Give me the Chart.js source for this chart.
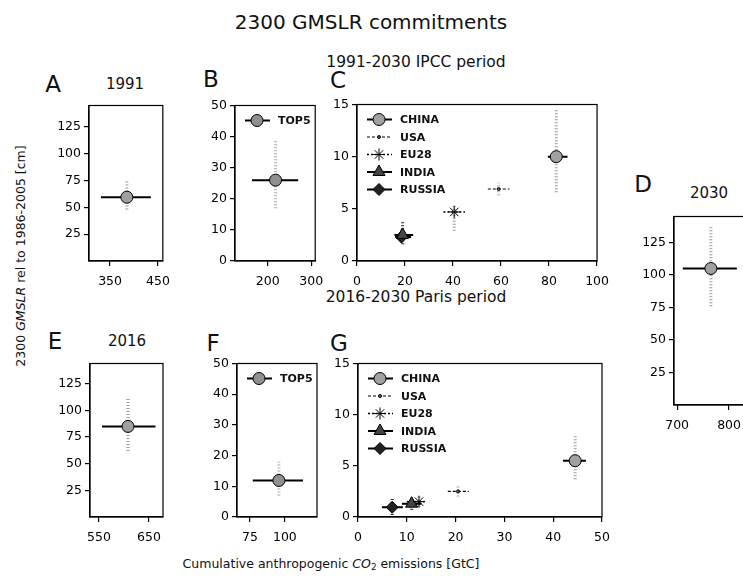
<!DOCTYPE html>
<html>
<head>
<meta charset="utf-8">
<script src="https://cdn.jsdelivr.net/npm/chart.js"></script>
<style>
  body { margin: 0; width: 743px; height: 579px; overflow: hidden; background: #fff; position: relative; font-family: 'DejaVu Sans', sans-serif; color: #111; }
  .t { position: absolute; white-space: nowrap; transform: translate(-50%, -50%); }
  .letter { font-size: 23px; }
  .sub { font-size: 15px; }
  .panel { position: absolute; }
  sub { font-size: 0.7em; vertical-align: -0.25em; line-height: 0; }
</style>
</head>
<body>
<div class="t" style="left:371px;top:22px;font-size:20px;">2300 GMSLR commitments</div>
<div class="t" style="left:416px;top:62px;font-size:15.5px;">1991-2030 IPCC period</div>
<div class="t" style="left:416px;top:297px;font-size:15.5px;">2016-2030 Paris period</div>

<div class="t letter" style="left:53px;top:84px;">A</div>
<div class="t sub" style="left:125px;top:84px;">1991</div>
<div class="t letter" style="left:211px;top:79px;">B</div>
<div class="t letter" style="left:338px;top:80px;">C</div>
<div class="t letter" style="left:643px;top:184px;">D</div>
<div class="t sub" style="left:709px;top:193px;">2030</div>
<div class="t letter" style="left:55px;top:341px;">E</div>
<div class="t sub" style="left:127px;top:341px;">2016</div>
<div class="t letter" style="left:213px;top:343px;">F</div>
<div class="t letter" style="left:339px;top:343px;">G</div>

<div class="t" style="left:20px;top:256px;font-size:12.5px;transform:translate(-50%,-50%) rotate(-90deg);">2300 <i>GMSLR</i> rel to 1986-2005 [cm]</div>
<div class="t" style="left:331px;top:563px;font-size:12.5px;">Cumulative anthropogenic <i>CO</i><sub>2</sub> emissions [GtC]</div>

<div id="panels"></div>

<script>
// countries, panels C and G
const countries = ['CHINA', 'USA', 'EU28', 'INDIA', 'RUSSIA'];

// 1991-2030 IPCC period (panel C)
const ipccX = [83, 59, 40.5, 19, 18.5];
const ipccY = [10.0, 6.9, 4.7, 2.5, 2.3];
const ipccXLow = [79.5, 54.5, 36, 15.6, 16];
const ipccXHigh = [87.7, 63.5, 45, 23.4, 22.5];
const ipccYLow = [6.6, 6.3, 2.9, 1.6, 1.8];
const ipccYHigh = [14.5, 7.5, 5.4, 3.8, 3.0];

// 2016-2030 Paris period (panel G)
const parisX = [44.5, 20.5, 12.5, 11, 7];
const parisY = [5.5, 2.5, 1.5, 1.3, 0.95];
const parisXLow = [42, 18.4, 10, 9, 4.9];
const parisXHigh = [46.7, 22.7, 14, 13, 9.2];
const parisYLow = [3.7, 2.0, 1.0, 0.7, 0.2];
const parisYHigh = [8.0, 3.0, 2.1, 1.9, 1.8];

// global totals, panels A, E, D
const years = ['1991', '2016', '2030'];
const globalX = [385, 608, 765];
const globalY = [59.5, 85, 105];
const globalXLow = [331, 556, 711];
const globalXHigh = [435, 663, 815];
const globalYLow = [48, 62, 76];
const globalYHigh = [76, 112, 138];

// top 5 emitters combined, panels B and F
const top5Label = 'TOP5';
const top5X = [218, 95.7];
const top5Y = [26, 11.9];
const top5XLow = [164, 77];
const top5XHigh = [270, 113];
const top5YLow = [17, 7];
const top5YHigh = [39, 18];

// tick labels
const globalTicksY = [25, 50, 75, 100, 125];
const top5TicksY = [0, 10, 20, 30, 40, 50];
const countryTicksY = [0, 5, 10, 15];
const ticksA = [350, 450];
const ticksE = [550, 650];
const ticksD = [700, 800];
const ticksB = [200, 300];
const ticksF = [75, 100];
const ticksC = [0, 20, 40, 60, 80, 100];
const ticksG = [0, 10, 20, 30, 40, 50];

// styles
const countryStyle = [
  { pointStyle: 'circle', radius: 6, fill: '#a0a0a0', dash: [], lw: 2, stripe: '#9a9a9a' },
  { pointStyle: 'circle', radius: 1.5, fill: '#666', dash: [3, 2], lw: 1.2, stripe: '#aaa' },
  { pointStyle: 'star', radius: 6, fill: '#bbb', dash: [2, 2], lw: 1.5, stripe: '#999' },
  { pointStyle: 'triangle', radius: 7, fill: '#444', dash: [], lw: 2, stripe: '#222' },
  { pointStyle: 'rectRot', radius: 6, fill: '#222', dash: [], lw: 2, stripe: '#222' }
];
const globalStyle = { pointStyle: 'circle', radius: 6, fill: '#a0a0a0', dash: [], lw: 2, stripe: '#999' };
const top5Style = { pointStyle: 'circle', radius: 6, fill: '#909090', dash: [], lw: 2, stripe: '#aaa' };

const YW = 36, XH = 31, PT = 8, PR = 16;

function series(x, y, xlo, xhi, ylo, yhi, st) {
  return [
    { type: 'scatter', data: [{ x: x, y: y }], pointStyle: st.pointStyle, pointRadius: st.radius,
      backgroundColor: st.fill, borderColor: '#000', pointBorderWidth: 1, order: 0 },
    { type: 'line', data: [{ x: xlo, y: y }, { x: xhi, y: y }], borderColor: '#000', borderWidth: st.lw,
      borderDash: st.dash, pointRadius: 0, order: 1 },
    { type: 'line', data: [{ x: x, y: ylo }, { x: x, y: yhi }], borderColor: st.stripe, borderWidth: 3,
      borderDash: [1, 2], pointRadius: 0, order: 2 }
  ];
}

function scales(xmin, xmax, xt, ymin, ymax, yt) {
  const grid = { display: true, drawOnChartArea: false, drawTicks: true, tickLength: 5, color: '#000', lineWidth: 1.2 };
  const border = { display: true, color: '#000', width: 1.2 };
  const font = { family: 'DejaVu Sans', size: 12.5 };
  return {
    x: {
      type: 'linear', min: xmin, max: xmax, grid: grid, border: border,
      ticks: { color: '#000', font: font, padding: 8, autoSkip: false, maxRotation: 0 },
      afterBuildTicks: s => { s.ticks = xt.map(v => ({ value: v })); },
      afterFit: s => { s.height = XH; }
    },
    y: {
      type: 'linear', min: ymin, max: ymax, grid: grid, border: border,
      ticks: { color: '#000', font: font, padding: 3, autoSkip: false },
      afterBuildTicks: s => { s.ticks = yt.map(v => ({ value: v })); },
      afterFit: s => { s.width = YW; }
    }
  };
}

const boxPlugin = {
  id: 'box',
  afterDatasetsDraw(chart) {
    const a = chart.chartArea, c = chart.ctx;
    c.save();
    c.strokeStyle = '#000';
    c.lineWidth = 1.2;
    c.strokeRect(a.left, a.top, a.right - a.left, a.bottom - a.top);
    c.restore();
  }
};

function legendPlugin(labels, styles) {
  return {
    id: 'inLegend',
    afterDraw(chart) {
      const a = chart.chartArea, c = chart.ctx;
      c.save();
      labels.forEach((lab, i) => {
        const st = styles[i];
        const y = a.top + 15 + i * 17.5;
        const mx = a.left + 22;
        c.strokeStyle = '#000';
        c.lineWidth = st.lw;
        c.setLineDash(st.dash);
        c.beginPath();
        c.moveTo(a.left + 10, y);
        c.lineTo(a.left + 35, y);
        c.stroke();
        c.setLineDash([]);
        c.fillStyle = st.fill;
        c.lineWidth = 1;
        Chart.helpers.drawPoint(c, { pointStyle: st.pointStyle, radius: st.radius, borderWidth: 1, rotation: 0 }, mx, y);
        c.fillStyle = '#111';
        c.font = 'bold 11px "DejaVu Sans"';
        c.textBaseline = 'middle';
        c.fillText(lab, a.left + 43, y + 1);
      });
      c.restore();
    }
  };
}

function panel(id, box, datasets, sc, extra) {
  const w = box[2] - box[0] + YW + PR;
  const h = box[3] - box[1] + PT + XH;
  const div = document.createElement('div');
  div.className = 'panel';
  div.style.left = (box[0] - YW) + 'px';
  div.style.top = (box[1] - PT) + 'px';
  div.style.width = w + 'px';
  div.style.height = h + 'px';
  const cv = document.createElement('canvas');
  cv.id = id;
  cv.width = w;
  cv.height = h;
  div.appendChild(cv);
  document.getElementById('panels').appendChild(div);
  new Chart(cv.getContext('2d'), {
    type: 'scatter',
    data: { datasets: datasets },
    options: {
      responsive: false,
      animation: false,
      layout: { padding: { top: PT, right: PR, bottom: 0, left: 0 } },
      plugins: { legend: { display: false }, tooltip: { enabled: false } },
      scales: sc
    },
    plugins: [boxPlugin].concat(extra || [])
  });
}

function globalSeries(i) {
  return series(globalX[i], globalY[i], globalXLow[i], globalXHigh[i], globalYLow[i], globalYHigh[i], globalStyle);
}
function top5Series(i) {
  return series(top5X[i], top5Y[i], top5XLow[i], top5XHigh[i], top5YLow[i], top5YHigh[i], top5Style);
}
function countrySeries(X, Y, XL, XH2, YL, YH) {
  let ds = [];
  countries.forEach((c, i) => { ds = ds.concat(series(X[i], Y[i], XL[i], XH2[i], YL[i], YH[i], countryStyle[i])); });
  return ds;
}

// plot areas: left, top, right, bottom
panel('chartA', [89, 103, 163, 261], globalSeries(0), scales(306, 460, ticksA, 0, 145, globalTicksY));
panel('chartB', [235, 103, 316, 261], top5Series(0), scales(125, 309, ticksB, 0, 50, top5TicksY),
  [legendPlugin([top5Label], [top5Style])]);
panel('chartC', [357, 102, 601, 261], countrySeries(ipccX, ipccY, ipccXLow, ipccXHigh, ipccYLow, ipccYHigh),
  scales(0, 100, ticksC, 0, 15, countryTicksY), [legendPlugin(countries, countryStyle)]);
panel('chartD', [674, 214, 754, 405], globalSeries(2), scales(694, 848, ticksD, 0, 145, globalTicksY));
panel('chartE', [90, 361, 163, 517], globalSeries(1), scales(532, 678, ticksE, 0, 144, globalTicksY));
panel('chartF', [237, 361, 317, 517], top5Series(1), scales(65.7, 123, ticksF, 0, 50, top5TicksY),
  [legendPlugin([top5Label], [top5Style])]);
panel('chartG', [358, 361, 602, 517], countrySeries(parisX, parisY, parisXLow, parisXHigh, parisYLow, parisYHigh),
  scales(0, 50, ticksG, 0, 15, countryTicksY), [legendPlugin(countries, countryStyle)]);
</script>
</body>
</html>
